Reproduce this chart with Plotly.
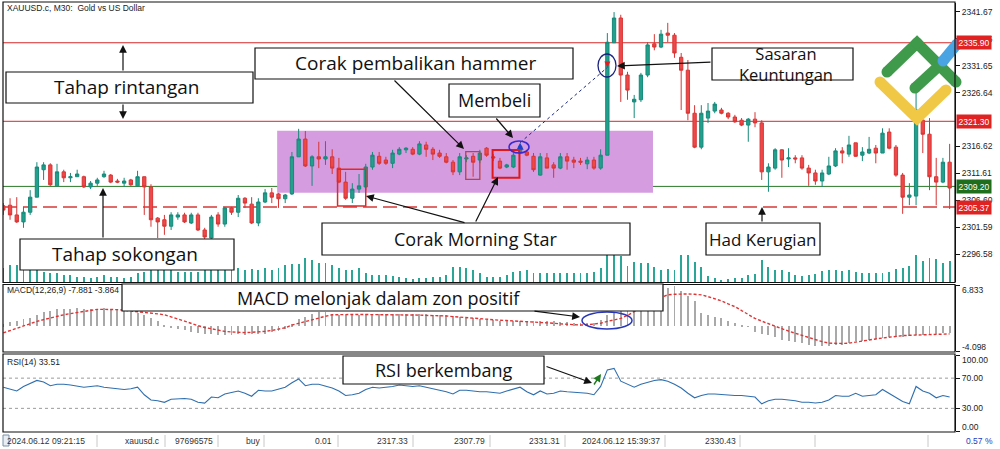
import plotly.graph_objects as go

W, H = 1000, 449

# ---------------- data ----------------
bars = list(range(142))

open_ = [2305.6, 2305.7, 2303.9, 2302.6, 2304.4, 2307.2, 2312.3, 2313.2, 2309.3, 2311.9,
         2310.8, 2311.0, 2311.0, 2309.1, 2309.8, 2311.0, 2311.3, 2310.2, 2309.8, 2310.4,
         2309.3, 2311.0, 2309.1, 2303.3, 2303.0, 2301.8, 2303.5, 2303.9, 2302.4, 2303.9,
         2301.1, 2299.6, 2303.9, 2302.2, 2305.2, 2304.4, 2307.0, 2305.9, 2302.4, 2306.3,
         2308.0, 2307.8, 2306.9, 2307.8, 2314.7, 2318.0, 2313.0, 2314.7, 2314.3, 2314.7,
         2312.6, 2310.0, 2307.0, 2308.7, 2309.1, 2312.8, 2314.8, 2314.1, 2313.5, 2315.2,
         2316.0, 2316.1, 2315.2, 2316.9, 2316.1, 2315.4, 2314.7, 2313.7, 2311.9, 2314.3,
         2314.8, 2314.1, 2316.3, 2314.7, 2313.9, 2312.8, 2312.8, 2315.4, 2315.6, 2314.8,
         2311.3, 2314.5, 2313.2, 2312.6, 2314.7, 2314.1, 2313.9, 2313.4, 2314.1, 2312.6,
         2315.0, 2335.9, 2340.5, 2329.9, 2324.9, 2325.3, 2329.9, 2335.7, 2335.1, 2337.7,
         2337.3, 2333.2, 2330.8, 2322.8, 2316.5, 2321.9, 2323.2, 2323.4, 2322.8, 2322.1,
         2321.5, 2320.6, 2321.7, 2321.0, 2311.9, 2312.6, 2316.0, 2314.3, 2314.5, 2314.5,
         2312.6, 2311.7, 2310.2, 2311.5, 2313.0, 2315.8, 2315.2, 2317.3, 2315.0, 2315.4,
         2316.3, 2315.4, 2319.3, 2316.5, 2311.3, 2307.2, 2307.4, 2321.5, 2318.9, 2311.0,
         2310.0, 2313.7]
high_ = [2306.1, 2307.0, 2307.2, 2305.4, 2308.5, 2313.7, 2313.7, 2313.5, 2313.4, 2312.3,
         2311.7, 2312.3, 2311.2, 2310.2, 2310.8, 2312.1, 2311.5, 2310.6, 2310.8, 2310.6,
         2312.1, 2311.0, 2309.6, 2303.5, 2303.9, 2304.4, 2304.4, 2304.3, 2304.3, 2304.3,
         2301.5, 2303.9, 2304.4, 2305.4, 2305.4, 2307.6, 2307.2, 2307.2, 2307.0, 2308.7,
         2308.9, 2308.0, 2307.8, 2315.6, 2319.9, 2319.5, 2315.0, 2317.5, 2317.6, 2316.1,
         2314.5, 2311.9, 2309.8, 2311.5, 2313.4, 2315.6, 2315.6, 2314.7, 2316.0, 2316.5,
         2316.5, 2316.5, 2317.6, 2317.5, 2316.5, 2316.0, 2315.4, 2314.1, 2315.4, 2315.0,
         2315.4, 2316.0, 2316.5, 2315.2, 2314.5, 2313.4, 2315.4, 2317.1, 2316.0, 2315.4,
         2315.4, 2315.4, 2313.7, 2315.4, 2315.4, 2314.7, 2314.5, 2314.7, 2314.7, 2316.1,
         2337.7, 2341.6, 2341.1, 2330.5, 2326.2, 2330.3, 2336.0, 2337.5, 2338.3, 2339.6,
         2337.7, 2334.0, 2332.7, 2324.3, 2324.3, 2324.7, 2324.9, 2323.8, 2323.0, 2322.5,
         2321.9, 2321.9, 2323.0, 2321.5, 2313.5, 2316.3, 2316.1, 2316.3, 2315.0, 2315.0,
         2313.2, 2312.3, 2312.3, 2314.7, 2316.3, 2316.5, 2318.6, 2317.3, 2316.5, 2318.4,
         2316.9, 2320.0, 2320.0, 2316.9, 2311.7, 2309.8, 2326.7, 2322.5, 2321.9, 2314.5,
         2314.5, 2317.1]
low_ = [2303.9, 2303.0, 2302.4, 2301.5, 2303.9, 2307.2, 2310.4, 2309.3, 2309.3, 2310.0,
        2310.0, 2311.0, 2308.9, 2308.7, 2309.3, 2310.8, 2309.8, 2309.8, 2309.1, 2309.3,
        2309.1, 2303.9, 2301.7, 2299.6, 2300.2, 2301.1, 2303.0, 2302.4, 2302.2, 2300.9,
        2299.2, 2299.2, 2301.7, 2301.7, 2303.9, 2303.5, 2305.2, 2302.2, 2301.8, 2306.1,
        2306.1, 2305.2, 2306.1, 2307.6, 2314.7, 2312.8, 2309.3, 2312.6, 2313.2, 2311.5,
        2309.8, 2306.7, 2306.1, 2308.0, 2308.5, 2312.3, 2313.2, 2313.2, 2312.6, 2315.0,
        2315.4, 2315.0, 2315.0, 2314.7, 2314.1, 2314.5, 2313.5, 2311.3, 2311.3, 2313.7,
        2311.0, 2313.5, 2314.7, 2313.9, 2312.4, 2312.6, 2312.6, 2315.2, 2314.8, 2311.9,
        2311.2, 2312.6, 2310.8, 2312.4, 2312.3, 2312.6, 2313.2, 2312.4, 2312.3, 2312.3,
        2315.0, 2335.9, 2324.9, 2325.3, 2321.9, 2324.9, 2329.5, 2334.5, 2334.9, 2336.0,
        2333.1, 2323.4, 2321.5, 2316.3, 2316.1, 2321.0, 2322.8, 2322.6, 2321.7, 2321.0,
        2320.4, 2317.5, 2320.2, 2310.4, 2308.2, 2312.3, 2310.8, 2312.8, 2313.5, 2312.3,
        2309.3, 2309.5, 2309.1, 2311.3, 2312.8, 2313.5, 2314.7, 2314.7, 2313.9, 2315.2,
        2313.5, 2315.4, 2316.1, 2311.0, 2304.1, 2305.7, 2305.7, 2315.4, 2308.5, 2305.7,
        2309.8, 2305.0]
close_ = [2304.8, 2303.9, 2302.6, 2304.4, 2307.2, 2312.8, 2313.2, 2309.5, 2311.9, 2310.8,
          2311.0, 2311.5, 2309.1, 2309.8, 2310.4, 2311.5, 2310.0, 2310.0, 2310.2, 2309.5,
          2311.0, 2309.1, 2303.0, 2302.6, 2301.8, 2303.9, 2303.9, 2302.6, 2303.9, 2301.1,
          2299.8, 2303.5, 2302.2, 2305.2, 2304.4, 2307.0, 2306.1, 2302.4, 2306.3, 2308.0,
          2307.2, 2306.9, 2307.6, 2314.7, 2318.0, 2313.0, 2314.7, 2314.3, 2314.7, 2312.6,
          2310.0, 2307.0, 2308.7, 2309.3, 2312.8, 2315.0, 2313.5, 2313.5, 2315.4, 2316.1,
          2316.3, 2315.2, 2317.1, 2316.1, 2315.2, 2314.8, 2313.7, 2311.9, 2314.7, 2314.5,
          2313.7, 2315.4, 2315.0, 2314.5, 2312.6, 2313.2, 2315.0, 2316.7, 2315.0, 2312.3,
          2314.7, 2312.6, 2312.6, 2314.7, 2313.9, 2313.7, 2313.7, 2314.1, 2312.6, 2315.0,
          2336.0, 2340.5, 2329.9, 2327.1, 2325.4, 2329.9, 2335.5, 2335.1, 2337.5, 2337.3,
          2334.0, 2330.8, 2322.8, 2316.5, 2322.8, 2323.2, 2324.5, 2322.8, 2322.1, 2321.2,
          2320.6, 2321.7, 2321.0, 2311.9, 2312.8, 2316.0, 2314.1, 2314.5, 2314.3, 2312.6,
          2311.7, 2310.2, 2311.7, 2313.0, 2315.8, 2315.4, 2316.9, 2314.8, 2315.6, 2316.1,
          2315.4, 2319.1, 2316.3, 2311.3, 2307.2, 2307.6, 2323.4, 2318.9, 2311.0, 2310.0,
          2313.7, 2308.9]

volume = [1400, 1700, 1700, 1400, 1200, 1500, 1000, 900, 900, 700,
          700, 500, 500, 400, 500, 700, 500, 500, 400, 500,
          900, 1000, 1700, 1400, 1600, 1500, 1000, 1000, 1000, 1000,
          1200, 1700, 1200, 1400, 1300, 1400, 1200, 1300, 1200, 1400,
          1200, 1400, 1700, 1800, 1800, 2400, 2200, 1900, 1900, 1700,
          1400, 1200, 1200, 1400, 900, 700, 700, 700, 600, 500,
          400, 300, 400, 400, 500, 500, 700, 1500, 1500, 1400,
          1200, 900, 500, 500, 500, 700, 1000, 1100, 1200, 900,
          900, 900, 900, 900, 900, 900, 900, 900, 1000, 1400,
          2700, 2700, 2600, 1600, 2000, 1900, 1900, 1500, 1200, 1300,
          1200, 2700, 2700, 2000, 1500, 600, 400, 200, 300, 400,
          400, 700, 800, 2200, 1500, 1200, 1200, 1000, 700, 600,
          700, 800, 1100, 1200, 1200, 1100, 1200, 1000, 900, 900,
          900, 900, 1000, 1300, 1400, 1600, 2700, 2100, 2400, 2300,
          1900, 2100]

macd_main = [0.3, 0.76, 0.9, 1.2, 1.4, 1.9, 2.3, 2.6, 2.8, 2.9,
             2.9, 2.95, 2.9, 2.9, 2.9, 2.95, 2.9, 2.9, 2.7, 2.4,
             2.2, 1.8, 1.4, 0.8, 0.2, -0.3, -0.5, -0.7, -0.9, -1.1,
             -1.2, -1.3, -1.4, -1.5, -1.4, -1.3, -1.4, -1.3, -1.2, -1.2,
             -1.0, -0.8, -0.5, 0.3, 1.2, 1.6, 2.1, 2.4, 2.3, 2.1,
             1.9, 1.9, 1.8, 1.9, 2.0, 2.1, 2.1, 2.1, 2.1, 2.1,
             2.1, 2.0, 2.0, 2.0, 1.9, 1.9, 1.8, 1.7, 1.5, 1.4,
             1.3, 1.2, 1.1, 1.0, 0.9, 0.9, 0.9, 0.9, 0.9, 0.8,
             0.8, 0.8, 0.8, 0.7, 0.7, 0.6, 0.6, 0.5, 0.5, 1.0,
             1.9, 2.3, 2.5, 2.6, 2.6, 2.8, 3.5, 4.4, 5.6, 6.4,
             6.6, 5.9, 5.0, 4.2, 2.2, 1.9, 1.6, 1.3, 0.8, 0.5,
             0.2, -0.1, -0.9, -1.2, -1.4, -1.7, -2.2, -2.5, -2.65, -2.8,
             -3.1, -3.2, -3.35, -3.35, -3.1, -3.1, -2.8, -2.5, -2.5, -2.2,
             -2.1, -1.95, -1.8, -1.8, -1.7, -1.6, -1.4, -1.4, -1.27, -1.27,
             -1.16, -1.16]

macd_signal = [-1.1, -0.7, -0.3, 0.1, 0.4, 0.8, 1.1, 1.4, 1.7, 1.9,
               2.1, 2.3, 2.5, 2.7, 2.8, 2.8, 2.8, 2.75, 2.65, 2.55,
               2.45, 2.3, 2.2, 2.05, 1.9, 1.6, 1.2, 0.85, 0.45, 0.1,
               -0.2, -0.45, -0.65, -0.85, -0.95, -1.05, -1.05, -1.0, -0.95, -0.85,
               -0.7, -0.5, -0.25, 0.2, 0.5, 0.8, 1.15, 1.4, 1.65, 1.9,
               1.95, 1.95, 1.95, 1.95, 1.95, 1.9, 1.9, 1.9, 1.9, 1.9,
               1.85, 1.85, 1.85, 1.8, 1.8, 1.75, 1.7, 1.6, 1.5, 1.4,
               1.3, 1.2, 1.1, 1.05, 1.0, 0.95, 0.9, 0.85, 0.8, 0.75,
               0.7, 0.6, 0.5, 0.4, 0.3, 0.25, 0.2, 0.25, 0.35, 0.5,
               0.8, 1.0, 1.3, 1.8, 2.4, 3.0, 3.7, 4.35, 4.8, 5.2,
               5.3, 5.35, 5.35, 5.3, 5.2, 4.9, 4.6, 4.2, 3.7, 3.25,
               2.6, 1.9, 1.3, 0.85, 0.4, 0.0, -0.4, -0.8, -1.15, -1.5,
               -1.9, -2.27, -2.55, -2.8, -2.85, -2.85, -2.8, -2.6, -2.45, -2.27,
               -2.1, -1.95, -1.8, -1.6, -1.55, -1.5, -1.48, -1.44, -1.38, -1.33,
               -1.3, -1.27]

rsi = [58, 55, 53, 59, 63, 67, 65, 60, 62, 62,
       61, 59, 58, 59, 60, 58, 57, 56, 55, 56,
       58, 48, 41, 40, 38, 42, 43, 43, 42, 38,
       37, 45, 44, 49, 51, 53, 50, 46, 54, 53,
       53, 56, 58, 64, 69, 60, 62, 62, 60, 57,
       53, 47, 48, 50, 55, 58, 57, 58, 59, 61,
       60, 59, 60, 58, 57, 55, 52, 49, 54, 54,
       53, 52, 52, 51, 50, 53, 56, 58, 52, 48,
       53, 49, 50, 53, 52, 51, 50, 50, 48, 59,
       81, 83, 66, 62, 58, 62, 65, 67, 68, 66,
       62, 57, 50, 44, 47, 49, 49, 48, 48, 47,
       47, 46, 45, 36, 40, 42, 42, 41, 40, 38,
       38, 37, 38, 41, 47, 46, 46, 50, 46, 47,
       48, 55, 50, 44, 39, 36, 59, 53, 50, 44,
       47, 45]

price_ticks = [2341.67, 2336.66, 2331.65, 2326.64, 2316.62, 2311.61, 2306.60, 2301.59, 2296.58]
macd_ticks = [6.833, -4.098]
rsi_ticks = [100, 70, 30, 0]
rsi_levels = [70, 30]

resistance_levels = [2335.90, 2321.30]
support_level = 2309.20
stop_level = 2305.37

trade_bars = [77, 90]
trade_prices = [2317.33, 2331.31]

status_fields = ["2024.06.12 09:21:15", "xauusd.c", "97696575", "buy", "0.01",
                 "2317.33", "2307.79", "2331.31", "2024.06.12 15:39:37", "2330.43"]

# ---------------- helpers (layout only) ----------------
def fx(x):
    return x / W

def fy(y):
    return 1 - y / H

TEAL = '#22a08d'
TEAL_L = '#16897a'
RED = '#f04848'
RED_L = '#d63535'
BOXFONT = 'Open Sans'
SMALL = 'Liberation Sans'

fig = go.Figure()

fig.add_trace(go.Candlestick(
    x=bars, open=open_, high=high_, low=low_, close=close_,
    increasing=dict(line=dict(color=TEAL_L, width=1), fillcolor=TEAL),
    decreasing=dict(line=dict(color=RED_L, width=1), fillcolor=RED),
    whiskerwidth=0, xaxis='x', yaxis='y', hoverinfo='skip', showlegend=False))

fig.add_trace(go.Scatter(x=trade_bars, y=trade_prices, mode='lines',
                         line=dict(color='#1c2a80', width=1, dash='dot'),
                         xaxis='x', yaxis='y', hoverinfo='skip'))
fig.add_trace(go.Scatter(x=[trade_bars[0]], y=[trade_prices[0]], mode='markers',
                         marker=dict(symbol='arrow-up', size=7, color='#1f3fd0'),
                         xaxis='x', yaxis='y', hoverinfo='skip'))
fig.add_trace(go.Scatter(x=[trade_bars[1]], y=[trade_prices[1]], mode='markers',
                         marker=dict(symbol='arrow-down', size=6, color='#e02020'),
                         xaxis='x', yaxis='y', hoverinfo='skip'))

fig.add_trace(go.Bar(x=bars, y=volume, width=0.14,
                     marker=dict(color='#2aa596', line=dict(width=0)),
                     xaxis='x', yaxis='y2', hoverinfo='skip'))

fig.add_trace(go.Bar(x=bars, y=macd_main, width=0.14,
                     marker=dict(color='#a9a9a9', line=dict(width=0)),
                     xaxis='x', yaxis='y3', hoverinfo='skip'))
fig.add_trace(go.Scatter(x=bars, y=macd_signal, mode='lines',
                         line=dict(color='#e03434', width=1.4, dash='3px,2px'),
                         xaxis='x', yaxis='y3', hoverinfo='skip'))

fig.add_trace(go.Scatter(x=bars, y=rsi, mode='lines',
                         line=dict(color='#2f6fae', width=1.1),
                         xaxis='x', yaxis='y4', hoverinfo='skip'))

# logo (decorative strokes on a pixel overlay axis)
def stroke(xs, ys, color):
    fig.add_trace(go.Scatter(x=xs, y=ys, mode='lines+markers',
                             line=dict(color=color, width=11),
                             marker=dict(color=color, size=11),
                             xaxis='x2', yaxis='y5', hoverinfo='skip'))

stroke([880, 917, 946], [82, 118, 90], '#f0c846')
stroke([887, 917, 956], [72, 43, 82], '#3f9a4b')
stroke([915, 940], [88, 65], '#3f9a4b')
stroke([943, 957], [61, 44], '#4aa3e2')

# ---------------- shapes ----------------
shapes = []

def prect(x0, y0, x1, y1, **kw):
    shapes.append(dict(type='rect', xref='paper', yref='paper',
                       x0=fx(x0), x1=fx(x1), y0=fy(y1), y1=fy(y0), **kw))

def pcircle(x0, y0, x1, y1, color, width):
    shapes.append(dict(type='circle', xref='paper', yref='paper',
                       x0=fx(x0), x1=fx(x1), y0=fy(y1), y1=fy(y0),
                       line=dict(color=color, width=width)))

def pline(x0, y0, x1, y1, color, width=1, dash='solid'):
    shapes.append(dict(type='line', xref='paper', yref='paper',
                       x0=fx(x0), x1=fx(x1), y0=fy(y0), y1=fy(y1),
                       line=dict(color=color, width=width, dash=dash)))

# consolidation zone
shapes.append(dict(type='rect', xref='x', yref='y', x0=40.8, x1=96.8, y0=2308.0, y1=2319.55,
                   fillcolor='#d69ce0', line=dict(width=0), layer='below'))
for lv in resistance_levels:
    shapes.append(dict(type='line', xref='paper', yref='y', x0=0.003, x1=0.955, y0=lv, y1=lv,
                       line=dict(color='#d42a2a', width=1), layer='below'))
shapes.append(dict(type='line', xref='paper', yref='y', x0=0.003, x1=0.955,
                   y0=support_level, y1=support_level,
                   line=dict(color='#2a7a2a', width=1), layer='below'))
shapes.append(dict(type='line', xref='paper', yref='y', x0=0.003, x1=0.955,
                   y0=stop_level, y1=stop_level,
                   line=dict(color='#d63a3a', width=1.3, dash='14px,6px'), layer='below'))
for lv in rsi_levels:
    shapes.append(dict(type='line', xref='paper', yref='y4', x0=0.003, x1=0.955, y0=lv, y1=lv,
                       line=dict(color='#9a9a9a', width=1, dash='dot'), layer='below'))

# pattern boxes
shapes.append(dict(type='rect', xref='x', yref='y', x0=49.8, x1=54.0, y0=2305.56, y1=2312.38,
                   line=dict(color='#e02828', width=1.5)))
shapes.append(dict(type='rect', xref='x', yref='y', x0=68.9, x1=71.0, y0=2310.52, y1=2315.65,
                   line=dict(color='#b84444', width=1.3)))
shapes.append(dict(type='rect', xref='x', yref='y', x0=72.9, x1=76.9, y0=2310.82, y1=2315.96,
                   line=dict(color='#e01818', width=2)))

# ellipses
pcircle(509, 141, 529, 153, '#3a2ad0', 1.5)
pcircle(598, 54, 616, 77, '#1a237e', 1.3)
pcircle(582, 312, 632, 329, '#2838b8', 1.5)

# panel frames
prect(3, 2, 955, 282.5, line=dict(color='#111', width=1.2))
prect(3, 284.5, 955, 352, line=dict(color='#111', width=1.2))
prect(3, 354, 955, 432, line=dict(color='#111', width=1.2))

# status bar separators
for sx in [97, 165, 218, 264, 338, 413, 490, 565, 665, 740, 815, 928]:
    pline(sx, 435, sx, 447, '#c8c8c8', 1)
prect(3, 435, 9, 446, line=dict(color='#7890a8', width=1), fillcolor='#e8eef4')

# annotation text boxes
boxes = [(6, 72, 253, 103), (255, 48, 573, 79), (449, 84, 540, 117), (712, 48, 853, 80),
         (20, 239, 234, 270), (322, 223, 630, 255), (706, 223, 820, 255),
         (122, 284, 663, 311), (343, 356, 544, 384)]
for b in boxes:
    prect(*b, fillcolor='white', line=dict(color='#111', width=1.2))

# ---------------- annotations ----------------
ann = []

def text(x, y, s, size, family=BOXFONT, color='#111', xanchor='center', **kw):
    ann.append(dict(x=fx(x), y=fy(y), xref='paper', yref='paper', text=s, showarrow=False,
                    xanchor=xanchor, yanchor='middle',
                    font=dict(family=family, size=size, color=color), **kw))

def arrow(x0, y0, x1, y1, color='#111', width=1.2, size=1.3):
    ann.append(dict(x=fx(x1), y=fy(y1), xref='paper', yref='paper', text='',
                    showarrow=True, ax=x0 - x1, ay=y0 - y1, axref='pixel', ayref='pixel',
                    arrowhead=2, arrowsize=size, arrowwidth=width, arrowcolor=color))

text(127, 87, 'Tahap rintangan', 19)
text(415, 63, 'Corak pembalikan hammer', 19)
text(494, 100, 'Membeli', 18)
text(786, 64, 'Sasaran<br>Keuntungan', 16.5)
text(125, 254, 'Tahap sokongan', 19)
text(475, 239, 'Corak Morning Star', 18)
text(763, 239, 'Had Kerugian', 17)
text(378, 297.5, 'MACD melonjak dalam zon positif', 18)
text(443, 369.5, 'RSI berkembang', 18)

arrow(123, 72, 123, 45)
arrow(123, 103, 123, 119)
arrow(393, 79, 464, 149)
arrow(495, 117, 513, 138)
arrow(712, 62, 617, 66)
arrow(103, 239, 103, 188)
arrow(466, 223, 366, 196)
arrow(475, 223, 498, 177)
arrow(762, 223, 762, 207)
arrow(533, 311, 580, 317)
arrow(545, 366, 592, 383)
arrow(593, 386, 601, 374, color='#1e7a1e', width=1.4, size=1.1)

# small chart labels
text(5, 8, 'XAUUSD.c, M30:  Gold vs US Dollar', 8.5, family=SMALL, color='#222', xanchor='left')
text(5, 290, 'MACD(12,26,9) -7.881 -3.864', 8.5, family=SMALL, color='#222', xanchor='left')
text(5, 362, 'RSI(14) 33.51', 8.5, family=SMALL, color='#222', xanchor='left')

# price level tags on the axis
for lv, col in [(resistance_levels[0], '#e02222'), (resistance_levels[1], '#e02222'),
                (support_level, '#1e6e1e'), (stop_level, '#e02222')]:
    ann.append(dict(x=0.9555, y=lv, xref='paper', yref='y', text=f'{lv:.2f}', showarrow=False,
                    xanchor='left', yanchor='middle', bgcolor=col, borderpad=1.5,
                    font=dict(family=SMALL, size=8.5, color='white')))

# end-of-range scale labels, drawn inside their panel like the terminal does
tickfont = dict(family=SMALL, size=8.5, color='#222')
for yref, val, lab, shift in [('y3', macd_ticks[0], f'{macd_ticks[0]:.3f}', -5),
                              ('y3', macd_ticks[1], f'{macd_ticks[1]:.3f}', 4),
                              ('y4', rsi_ticks[0], f'{rsi_ticks[0]:.2f}', -4),
                              ('y4', rsi_ticks[-1], f'{rsi_ticks[-1]:.2f}', 4)]:
    ann.append(dict(x=fx(960), y=val, xref='paper', yref=yref, text=lab, showarrow=False,
                    xanchor='left', yanchor='middle', yshift=shift, font=tickfont))

# status bar
status_right = [87, 162, 215, 262, 334, 410, 487, 562, 662, 738]
for s, rx in zip(status_fields, status_right):
    text(rx, 441, s, 8.5, family=SMALL, color='#333', xanchor='right')
text(995, 441, '0.57 %', 8.5, family=SMALL, color='#2040c0', xanchor='right')

axis_common = dict(side='right', anchor='x', showgrid=False, zeroline=False, showline=True,
                   linecolor='#111', linewidth=1, ticks='outside', ticklen=4, tickcolor='#111',
                   tickfont=tickfont, fixedrange=True)

fig.update_layout(
    width=W, height=H, margin=dict(l=0, r=0, t=0, b=0),
    paper_bgcolor='white', plot_bgcolor='rgba(0,0,0,0)', showlegend=False,
    bargap=0, barmode='overlay',
    xaxis=dict(domain=[0.003, 0.955], range=[-0.05, 141.8], visible=False,
               rangeslider=dict(visible=False), fixedrange=True),
    xaxis2=dict(domain=[0, 1], range=[0, W], visible=False, anchor='y5', fixedrange=True),
    yaxis=dict(domain=[fy(282), fy(3)], range=[2291.43, 2343.29],
               tickvals=price_ticks, ticktext=[f'{v:.2f}' for v in price_ticks], **axis_common),
    yaxis2=dict(domain=[fy(282), fy(248)], range=[0, 3400], visible=False, anchor='x',
                fixedrange=True),
    yaxis3=dict(domain=[fy(351), fy(285)], range=[-4.098, 6.833],
                tickvals=macd_ticks, ticktext=['', ''], **axis_common),
    yaxis4=dict(domain=[fy(431), fy(355.5)], range=[0, 100],
                tickvals=rsi_ticks, ticktext=['', '70.00', '30.00', ''], **axis_common),
    yaxis5=dict(domain=[0, 1], range=[H, 0], visible=False, anchor='x2', fixedrange=True),
    shapes=shapes, annotations=ann,
)

fig.write_html('out.html', config={'displayModeBar': False},
               post_script="document.body.style.margin='0';document.body.style.overflow='hidden';")
